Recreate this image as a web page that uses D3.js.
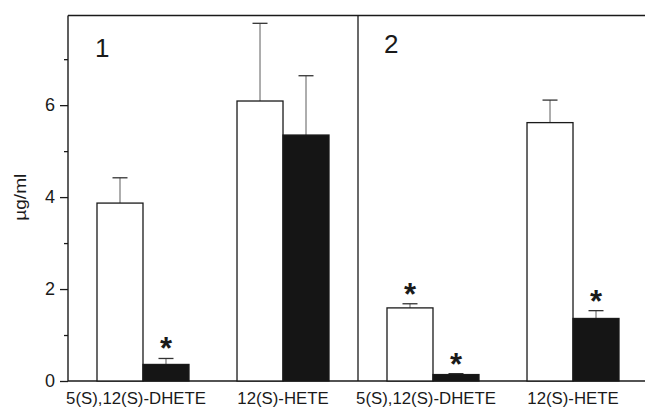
<!DOCTYPE html>
<html>
<head>
<meta charset="utf-8">
<script src="https://cdn.jsdelivr.net/npm/d3@7"></script>
<style>
  html, body { margin: 0; padding: 0; background: #fff; }
  svg { display: block; font-family: "Liberation Sans", Arial, Helvetica, sans-serif; }
</style>
</head>
<body>
<svg id="chart" width="645" height="408"></svg>
<script>
// Metabolite categories on the x axis of each panel
const categories = ["5(S),12(S)-DHETE", "12(S)-HETE"];
const panels = ["1", "2"];
const seriesNames = ["open", "filled"];

// Means (µg/ml) per panel, per series, in category order
const panel1Open = [3.87, 6.09];
const panel1Filled = [0.36, 5.35];
const panel2Open = [1.59, 5.62];
const panel2Filled = [0.14, 1.36];

// Upward error (SE) per bar
const panel1OpenErr = [0.55, 1.69];
const panel1FilledErr = [0.13, 1.29];
const panel2OpenErr = [0.09, 0.49];
const panel2FilledErr = [0.02, 0.17];

// Significance markers (*)
const panel1OpenSig = [false, false];
const panel1FilledSig = [true, false];
const panel2OpenSig = [true, false];
const panel2FilledSig = [true, true];

const majorTicks = [0, 2, 4, 6];
const minorTicks = [1, 3, 5, 7];
const yLabel = "µg/ml";

const panelData = [
  { name: panels[0], series: [
      { key: seriesNames[0], values: panel1Open, err: panel1OpenErr, sig: panel1OpenSig },
      { key: seriesNames[1], values: panel1Filled, err: panel1FilledErr, sig: panel1FilledSig } ] },
  { name: panels[1], series: [
      { key: seriesNames[0], values: panel2Open, err: panel2OpenErr, sig: panel2OpenSig },
      { key: seriesNames[1], values: panel2Filled, err: panel2FilledErr, sig: panel2FilledSig } ] }
];

const svg = d3.select("#chart");
const W = 645;
const mLeft = 68, mTop = 15.5, mBottom = 381, panelW = 290;

const y = d3.scaleLinear().domain([0, 7.95]).range([mBottom, mTop]);

const panelX = d3.scaleBand().domain(panels).range([mLeft, mLeft + 2 * panelW]);
const groupX = d3.scaleBand().domain(categories).range([0, panelW])
  .paddingInner(0.343).paddingOuter(0.2071);
const barX = d3.scaleBand().domain(seriesNames).range([0, groupX.bandwidth()]);

const ink = "#1a1a1a";

// Frame: top edge, baseline, panel divider
svg.append("line").attr("x1", mLeft).attr("x2", W).attr("y1", mTop).attr("y2", mTop)
  .attr("stroke", ink).attr("stroke-width", 1.4);
svg.append("line").attr("x1", mLeft).attr("x2", W).attr("y1", y(0)).attr("y2", y(0))
  .attr("stroke", ink).attr("stroke-width", 1.4);
svg.append("line").attr("x1", panelX(panels[1])).attr("x2", panelX(panels[1]))
  .attr("y1", mTop).attr("y2", y(0)).attr("stroke", ink).attr("stroke-width", 1.3);

// Y axis: labelled major ticks plus unlabelled minor ticks
const yAxis = svg.append("g").attr("transform", `translate(${mLeft},0)`)
  .call(d3.axisLeft(y).tickValues(majorTicks).tickSize(8).tickPadding(5).tickFormat(d3.format("d")));
yAxis.select(".domain").remove();
yAxis.selectAll(".tick line").attr("stroke", ink).attr("stroke-width", 1.3);
yAxis.selectAll(".tick text").attr("font-size", 18).attr("fill", ink)
  .attr("font-family", "Liberation Sans, Arial, sans-serif");

const yMinor = svg.append("g").attr("transform", `translate(${mLeft},0)`)
  .call(d3.axisLeft(y).tickValues(minorTicks).tickSize(4).tickFormat(""));
yMinor.select(".domain").remove();
yMinor.selectAll(".tick line").attr("stroke", ink).attr("stroke-width", 1.3);

svg.append("line").attr("x1", mLeft).attr("x2", mLeft).attr("y1", mTop).attr("y2", y(0))
  .attr("stroke", ink).attr("stroke-width", 1.4);

// Y axis title
svg.append("text")
  .attr("transform", `translate(26,${(y(0) + y(7.95)) / 2 - 1}) rotate(-90)`)
  .attr("text-anchor", "middle").attr("font-size", 17).attr("fill", ink)
  .attr("textLength", 47).attr("lengthAdjust", "spacingAndGlyphs")
  .text(yLabel);

// Panels
const pg = svg.selectAll("g.panel").data(panelData).join("g")
  .attr("class", "panel")
  .attr("transform", d => `translate(${panelX(d.name)},0)`);

// Panel number
pg.append("text")
  .attr("x", (d, i) => i === 0 ? 27 : 26)
  .attr("y", (d, i) => i === 0 ? 56.5 : 52.5)
  .attr("font-size", 26).attr("fill", ink)
  .text(d => d.name);

// Category labels under each group
pg.selectAll("text.cat").data(categories).join("text")
  .attr("class", "cat")
  .attr("x", (c, i) => groupX(c) + groupX.bandwidth() / 2 - (i === 0 ? 7 : 0))
  .attr("y", 403.5)
  .attr("text-anchor", "middle").attr("font-size", 16.8).attr("fill", ink)
  .text(c => c);

// Bars, error bars and markers
pg.each(function (p) {
  const g = d3.select(this);
  p.series.forEach(s => {
    const items = categories.map((c, i) => ({ c, v: s.values[i], e: s.err[i], sig: s.sig[i], key: s.key }));
    const sg = g.append("g");
    const x0 = d => groupX(d.c) + barX(d.key);
    const cx = d => x0(d) + barX.bandwidth() / 2;

    sg.selectAll("line.err").data(items).join("line")
      .attr("class", "err")
      .attr("x1", cx).attr("x2", cx)
      .attr("y1", d => y(d.v)).attr("y2", d => y(d.v + d.e))
      .attr("stroke", "#777").attr("stroke-width", 1.2);
    sg.selectAll("line.cap").data(items).join("line")
      .attr("class", "cap")
      .attr("x1", d => cx(d) - 7.5).attr("x2", d => cx(d) + 7.5)
      .attr("y1", d => y(d.v + d.e)).attr("y2", d => y(d.v + d.e))
      .attr("stroke", "#333").attr("stroke-width", 1.3);

    sg.selectAll("rect").data(items).join("rect")
      .attr("x", x0).attr("width", barX.bandwidth())
      .attr("y", d => y(d.v)).attr("height", d => y(0) - y(d.v))
      .attr("fill", s.key === "open" ? "#fff" : "#151515")
      .attr("stroke", ink).attr("stroke-width", 1.3);

    sg.selectAll("text.sig").data(items.filter(d => d.sig)).join("text")
      .attr("class", "sig")
      .attr("x", cx).attr("y", d => y(d.v + d.e) + 1)
      .attr("text-anchor", "middle").attr("font-size", 31).attr("font-weight", "bold")
      .attr("fill", ink)
      .text("*");
  });
});
</script>
</body>
</html>
